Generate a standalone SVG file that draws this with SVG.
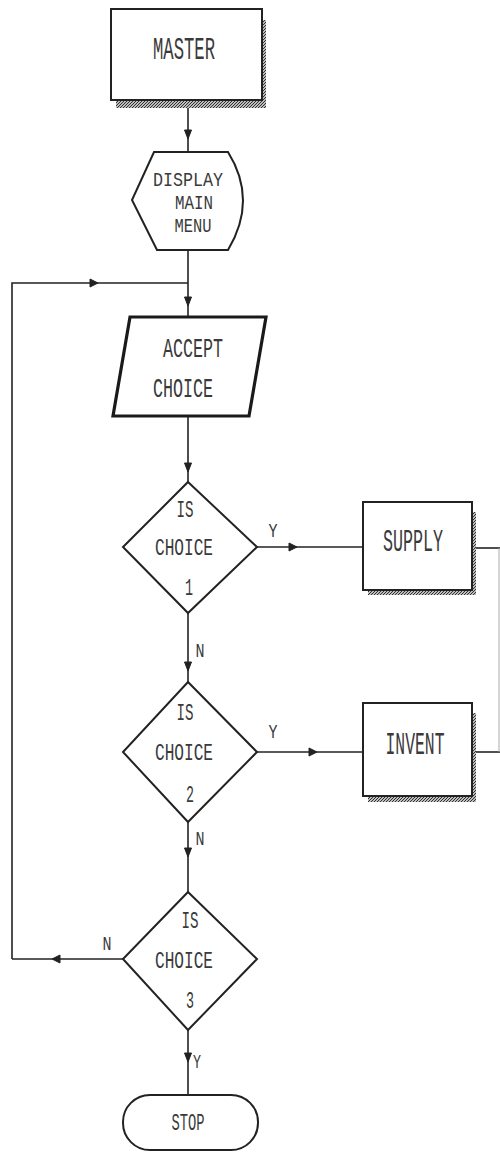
<svg xmlns="http://www.w3.org/2000/svg" width="500" height="1153" viewBox="0 0 500 1153">
<defs>
<pattern id="hatch" width="3" height="3" patternUnits="userSpaceOnUse">
<rect width="3" height="3" fill="#bbb"/>
<path d="M0,3 L3,0" stroke="#333" stroke-width="1"/>
</pattern>
<path id="ad" d="M-3.5,-5 L3.5,-5 L0,4 Z" fill="#222" stroke="#222" stroke-width="1"/>
<path id="ar" d="M-4,-4 L-4,4 L4,0 Z" fill="#222" stroke="#222" stroke-width="1"/>
<path id="al" d="M4,-4 L4,4 L-4,0 Z" fill="#222" stroke="#222" stroke-width="1"/>
</defs>
<style>
.ln{fill:none;stroke:#222;stroke-width:1.6}
.box{fill:#fff;stroke:#222;stroke-width:2}
.thick{fill:#fff;stroke:#1a1a1a;stroke-width:3.2}
.sh{fill:url(#hatch)}
.t{font-family:"Liberation Mono","DejaVu Sans Mono",monospace;fill:#3a3a3a;text-anchor:middle}
.big{font-size:32px}
.mid{font-size:27px}
.dm{font-size:20px}
.sm{font-size:24px}
.lb{font-size:21px}
</style>
<rect width="500" height="1153" fill="#fff"/>

<g id="connectors">
<path class="ln" d="M188,108 V152"/>
<path class="ln" d="M188,250 V317"/>
<path class="ln" d="M12,959 V283 H188"/>
<path class="ln" d="M188,416 V482"/>
<path class="ln" d="M257,547 H363"/>
<path class="ln" d="M476,548 H500"/>
<path class="ln" d="M188,613 V682"/>
<path class="ln" d="M257,752 H363"/>
<path class="ln" d="M476,752 H500"/>
<path d="M499,548 V752" fill="none" stroke="#aaa" stroke-width="1"/>
<path class="ln" d="M188,822 V892"/>
<path class="ln" d="M123,959 H12"/>
<path class="ln" d="M188,1030 V1095"/>
<use href="#ad" x="188" y="135"/>
<use href="#ar" x="94" y="283"/>
<use href="#ad" x="188" y="302"/>
<use href="#ad" x="188" y="468"/>
<use href="#ar" x="293" y="547"/>
<use href="#ad" x="188" y="667"/>
<use href="#ar" x="313" y="752"/>
<use href="#ad" x="188" y="853"/>
<use href="#al" x="56" y="959"/>
<use href="#ad" x="188" y="1058"/>
<text class="t lb" x="200" y="657" textLength="9" lengthAdjust="spacingAndGlyphs">N</text>
<text class="t lb" x="200" y="845" textLength="9" lengthAdjust="spacingAndGlyphs">N</text>
<text class="t lb" x="107" y="950" textLength="9" lengthAdjust="spacingAndGlyphs">N</text>
<text class="t lb" x="273" y="537" textLength="9" lengthAdjust="spacingAndGlyphs">Y</text>
<text class="t lb" x="273" y="738" textLength="9" lengthAdjust="spacingAndGlyphs">Y</text>
<text class="t lb" x="197" y="1068" textLength="8" lengthAdjust="spacingAndGlyphs">Y</text>
</g>

<g id="master">
<rect class="sh" x="116" y="100" width="150" height="8"/>
<rect class="sh" x="262" y="20" width="4" height="88"/>
<rect class="box" x="111" y="9" width="151" height="91"/>
<text class="t big" x="184" y="59" textLength="62" lengthAdjust="spacingAndGlyphs">MASTER</text>
</g>

<g id="display">
<path class="box" d="M154,152 H228 Q258,200 228,250 H157 L132,200 Z"/>
<text class="t dm" x="188" y="186" textLength="70" lengthAdjust="spacingAndGlyphs">DISPLAY</text>
<text class="t dm" x="194" y="209" textLength="38" lengthAdjust="spacingAndGlyphs">MAIN</text>
<text class="t dm" x="193" y="232" textLength="37" lengthAdjust="spacingAndGlyphs">MENU</text>
</g>

<g id="accept">
<path class="thick" d="M130,317 H266 L249,416 H113 Z"/>
<text class="t mid" x="193" y="357" textLength="60" lengthAdjust="spacingAndGlyphs">ACCEPT</text>
<text class="t mid" x="183" y="397" textLength="60" lengthAdjust="spacingAndGlyphs">CHOICE</text>
</g>

<g id="choice1">
<path class="box" d="M188,482 L257,547 L188,613 L123,547 Z"/>
<text class="t sm" x="185" y="517" textLength="17" lengthAdjust="spacingAndGlyphs">IS</text>
<text class="t sm" x="184" y="555" textLength="58" lengthAdjust="spacingAndGlyphs">CHOICE</text>
<text class="t sm" x="189" y="595" textLength="8" lengthAdjust="spacingAndGlyphs">1</text>
</g>

<g id="supply">
<rect class="sh" x="368" y="590" width="108" height="5"/>
<rect class="sh" x="472" y="512" width="4" height="83"/>
<rect class="box" x="363" y="502" width="109" height="88"/>
<text class="t big" x="413" y="551" textLength="60" lengthAdjust="spacingAndGlyphs">SUPPLY</text>
</g>

<g id="choice2">
<path class="box" d="M188,682 L257,752 L188,822 L123,752 Z"/>
<text class="t sm" x="185" y="720" textLength="17" lengthAdjust="spacingAndGlyphs">IS</text>
<text class="t sm" x="184" y="760" textLength="58" lengthAdjust="spacingAndGlyphs">CHOICE</text>
<text class="t sm" x="190" y="802" textLength="8" lengthAdjust="spacingAndGlyphs">2</text>
</g>

<g id="invent">
<rect class="sh" x="368" y="796" width="108" height="6"/>
<rect class="sh" x="472" y="713" width="4" height="89"/>
<rect class="box" x="363" y="703" width="109" height="93"/>
<text class="t big" x="415" y="754" textLength="59" lengthAdjust="spacingAndGlyphs">INVENT</text>
</g>

<g id="choice3">
<path class="box" d="M188,892 L257,959 L188,1030 L123,959 Z"/>
<text class="t sm" x="190" y="928" textLength="17" lengthAdjust="spacingAndGlyphs">IS</text>
<text class="t sm" x="184" y="968" textLength="58" lengthAdjust="spacingAndGlyphs">CHOICE</text>
<text class="t sm" x="190" y="1008" textLength="8" lengthAdjust="spacingAndGlyphs">3</text>
</g>

<g id="stop">
<rect class="box" x="123" y="1095" width="135" height="55" rx="27" ry="27"/>
<text class="t sm" x="188" y="1130" textLength="33" lengthAdjust="spacingAndGlyphs">STOP</text>
</g>
</svg>
